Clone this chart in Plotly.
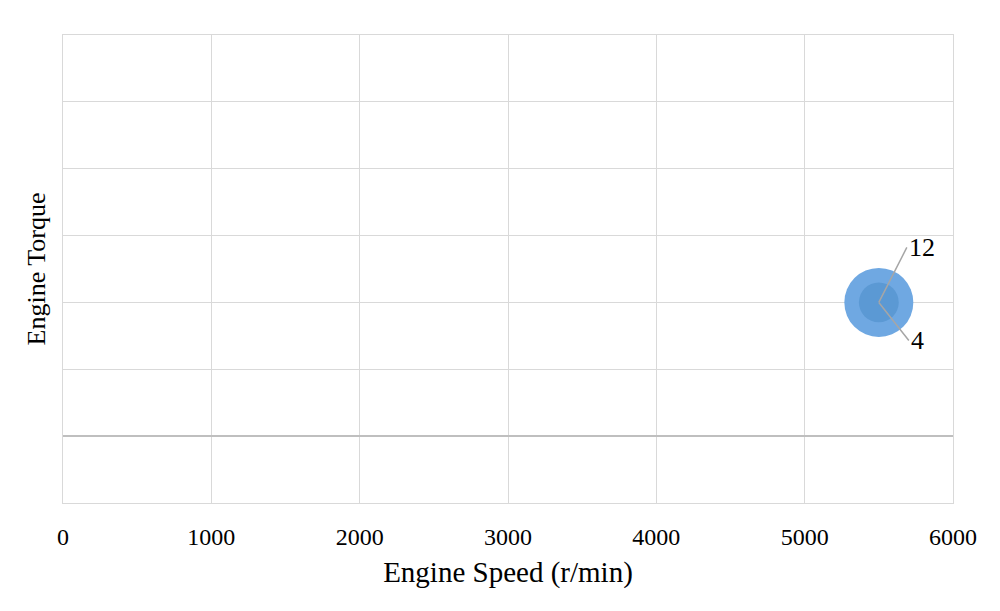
import plotly.graph_objects as go

speed = [5500, 5500]
torque = [2, 2]
bubble_size = [12, 4]
labels = ["12", "4"]
x_ticks = [0, 1000, 2000, 3000, 4000, 5000, 6000]

FONT = "Liberation Serif"

fig = go.Figure()
fig.add_trace(go.Scatter(
    x=speed, y=torque, mode="markers",
    marker=dict(size=bubble_size, sizemode="area", sizeref=2 * 12 / (69 ** 2), sizemin=1,
                color=["rgb(111,168,226)", "rgb(91,153,212)"], opacity=1, line=dict(width=0)),
    hoverinfo="x+y+text", text=labels, showlegend=False,
))

offsets = {"12": (28, -55), "4": (30, 38)}
for xv, yv, lab in zip(speed, torque, labels):
    ax, ay = offsets[lab]
    fig.add_annotation(x=xv, y=yv, text=lab, showarrow=True, arrowhead=0, arrowwidth=1.5,
                       arrowcolor="#a6a6a6", ax=ax, ay=ay, xanchor="left",
                       font=dict(family=FONT, size=26, color="#000"))

grid = "#d9d9d9"
# body margin of the html page is 8px; shift margins to compensate
fig.update_layout(
    width=1000, height=611,
    margin=dict(l=55, r=55, t=27, b=116),
    paper_bgcolor="white", plot_bgcolor="white",
    font=dict(family=FONT, size=24, color="#000"),
    xaxis=dict(range=[0, 6000], tickvals=x_ticks, ticktext=[str(v) for v in x_ticks],
               showgrid=True, gridcolor=grid, gridwidth=1, zeroline=False,
               showline=True, linecolor=grid, mirror=True,
               ticks="outside", ticklen=12, tickcolor="rgba(0,0,0,0)",
               title=dict(text="Engine Speed (r/min)", standoff=12)),
    yaxis=dict(range=[-1, 6], dtick=1, showticklabels=False,
               showgrid=True, gridcolor=grid, gridwidth=1,
               zeroline=True, zerolinecolor="#bfbfbf", zerolinewidth=1.5,
               showline=True, linecolor=grid, mirror=True, ticks="",
               title=dict(text="Engine Torque", standoff=8,
                          font=dict(family=FONT, size=26, color="#000"))),
)
fig.write_html("out.html")
